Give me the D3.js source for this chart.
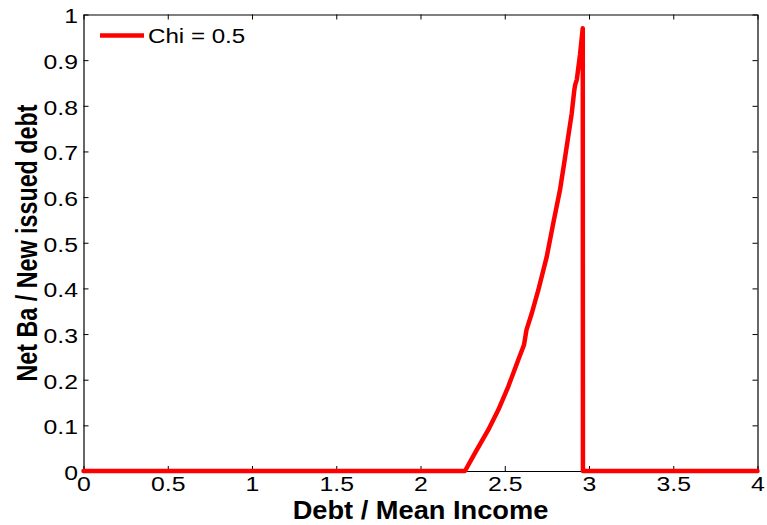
<!DOCTYPE html>
<html><head><meta charset="utf-8">
<script src="https://cdn.jsdelivr.net/npm/d3@7"></script>
<style>
body{margin:0;background:#fff;}
text{font-family:"Liberation Sans",Arial,sans-serif;}
</style></head>
<body><svg id="c" width="767" height="525"></svg>
<script>
const xValues = [0, 0.5, 1.0, 1.5, 2.0, 2.264, 2.323, 2.402, 2.462, 2.521, 2.580, 2.614, 2.629, 2.660, 2.699, 2.749, 2.788, 2.828, 2.858, 2.897, 2.913, 2.918, 2.928, 2.947, 2.963, 2.964, 3.0, 3.5, 4.0];
const yValues = [0, 0, 0, 0, 0, 0, 0.039, 0.090, 0.134, 0.185, 0.243, 0.276, 0.309, 0.345, 0.396, 0.469, 0.543, 0.616, 0.687, 0.782, 0.835, 0.846, 0.858, 0.913, 0.970, 0, 0, 0, 0];
const xTicks = [0, 0.5, 1, 1.5, 2, 2.5, 3, 3.5, 4];
const yTicks = [0, 0.1, 0.2, 0.3, 0.4, 0.5, 0.6, 0.7, 0.8, 0.9, 1];
const seriesName = "Chi = 0.5";
const xTitle = "Debt / Mean Income";
const yTitle = "Net Ba / New issued debt";

const svg = d3.select("#c");
const L = 83.5, R = 757.5, T = 14.5, B = 471;
const x = d3.scaleLinear().domain([0, 4]).range([L, R]);
const y = d3.scaleLinear().domain([0, 1]).range([B, T]);
const fmt = d => String(d);
const SX = 1.18;

// axes
const gB = svg.append("g").attr("transform", `translate(0,${B})`)
  .call(d3.axisBottom(x).tickValues(xTicks).tickFormat(fmt).tickSizeInner(-5).tickSizeOuter(0).tickPadding(5));
const gT = svg.append("g").attr("transform", `translate(0,${T})`)
  .call(d3.axisTop(x).tickValues(xTicks).tickFormat("").tickSizeInner(-5).tickSizeOuter(0));
const gL = svg.append("g").attr("transform", `translate(${L},0)`)
  .call(d3.axisLeft(y).tickValues(yTicks).tickFormat(fmt).tickSizeInner(-5).tickSizeOuter(0).tickPadding(5));
const gR = svg.append("g").attr("transform", `translate(${R},0)`)
  .call(d3.axisRight(y).tickValues(yTicks).tickFormat("").tickSizeInner(-5).tickSizeOuter(0));
[gB, gT, gL, gR].forEach(g => {
  g.selectAll(".domain").attr("stroke", "#000").attr("stroke-width", 1.2);
  g.selectAll(".tick line").attr("stroke", "#000");
  g.selectAll(".tick text").attr("fill", "#000").attr("font-size", 21)
    .attr("transform", `scale(${SX},1)`);
});
gL.selectAll(".tick text").attr("x", -5.5 / SX).attr("dy", "0.40em");

// line
const data = xValues.map((v, i) => [v, yValues[i]]);
svg.append("path").datum(data)
  .attr("fill", "none").attr("stroke", "#ff0000").attr("stroke-width", 4.5)
  .attr("stroke-linejoin", "round").attr("stroke-linecap", "round")
  .attr("d", d3.line().x(d => x(d[0])).y(d => y(d[1])));

// legend
svg.append("line").attr("x1", 100).attr("x2", 144).attr("y1", 35.5).attr("y2", 35.5)
  .attr("stroke", "#ff0000").attr("stroke-width", 4.5);
svg.append("text").attr("transform", "translate(148,43) scale(1.15,1)")
  .attr("font-size", 21).attr("fill", "#000").text(seriesName);

// titles
svg.append("text").attr("transform", `translate(${(L + R) / 2},519) scale(1.09,1)`)
  .attr("text-anchor", "middle").attr("font-size", 25).attr("font-weight", "bold").text(xTitle);
svg.append("text").attr("transform", `translate(37,243) rotate(-90) scale(1,1.25)`)
  .attr("text-anchor", "middle").attr("font-size", 23.3).attr("font-weight", "bold")
  .text(yTitle);
</script></body></html>
